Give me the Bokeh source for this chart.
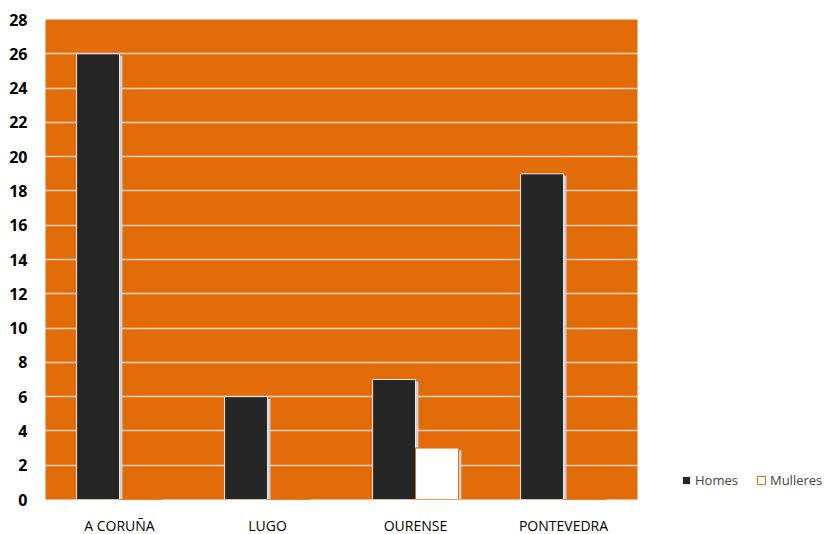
from bokeh.plotting import figure
from bokeh.models import FactorRange, Legend, LegendItem, ColumnDataSource, FixedTicker, Range1d
from bokeh.transform import dodge
from bokeh.embed import file_html
from bokeh.resources import INLINE

categories = ["A CORUÑA", "LUGO", "OURENSE", "PONTEVEDRA"]
homes = [26, 6, 7, 19]
mulleres = [0, 0, 3, 0]
y_ticks = list(range(0, 29, 2))

src = ColumnDataSource(dict(cat=categories, homes=homes, mulleres=mulleres,
                            homes_sh=[max(v - 0.12, 0) for v in homes],
                            mull_sh=[max(v - 0.12, 0) for v in mulleres]))

p = figure(x_range=FactorRange(*categories), y_range=Range1d(0, 28),
           frame_width=592, frame_height=480, output_backend="svg",
           toolbar_location=None, min_border_left=45, min_border_top=19,
           min_border_bottom=0, min_border_right=10)

p.background_fill_color = "#E36C0A"
p.border_fill_color = "white"
p.outline_line_color = None

# shadows
p.vbar(x=dodge("cat", -0.125, range=p.x_range), top="homes_sh", width=0.29,
       source=src, fill_color="#cfcfcf", line_color=None)
p.vbar(x=dodge("cat", 0.165, range=p.x_range), top="mull_sh", width=0.29,
       source=src, fill_color="#cfcfcf", line_color=None)

r1 = p.vbar(x=dodge("cat", -0.145, range=p.x_range), top="homes", width=0.29,
            source=src, fill_color="#262626", line_color="#e9e9e9", line_width=1)
r2 = p.vbar(x=dodge("cat", 0.145, range=p.x_range), top="mulleres", width=0.29,
            source=src, fill_color="white", line_color="#E36C0A", line_width=1)

p.ygrid.ticker = FixedTicker(ticks=y_ticks)
p.ygrid.grid_line_color = "white"
p.ygrid.grid_line_alpha = 0.7
p.ygrid.grid_line_width = 1.5
p.xgrid.grid_line_color = None

p.yaxis.ticker = FixedTicker(ticks=y_ticks)
p.yaxis.axis_line_color = None
p.yaxis.major_tick_line_color = None
p.yaxis.minor_tick_line_color = None
p.yaxis.major_label_text_font = "Open Sans"
p.yaxis.major_label_text_font_style = "bold"
p.yaxis.major_label_text_font_size = "16px"
p.yaxis.major_label_text_color = "black"
p.yaxis.major_label_standoff = 12

p.xaxis.axis_line_color = None
p.xaxis.major_tick_line_color = None
p.xaxis.minor_tick_line_color = None
p.xaxis.major_label_text_font = "Open Sans"
p.xaxis.major_label_text_font_size = "14px"
p.xaxis.major_label_text_color = "black"
p.xaxis.major_label_standoff = 10

legend = Legend(items=[LegendItem(label="Homes", renderers=[r1]),
                       LegendItem(label="Mulleres", renderers=[r2])],
                orientation="horizontal", location=(44, 10),
                glyph_width=10, glyph_height=10, label_text_font="Open Sans",
                label_text_font_size="13px", label_standoff=4, spacing=18,
                border_line_color=None, background_fill_alpha=0,
                margin=0, padding=2)
p.add_layout(legend, "right")

open("out.html", "w").write(file_html(p, INLINE))
